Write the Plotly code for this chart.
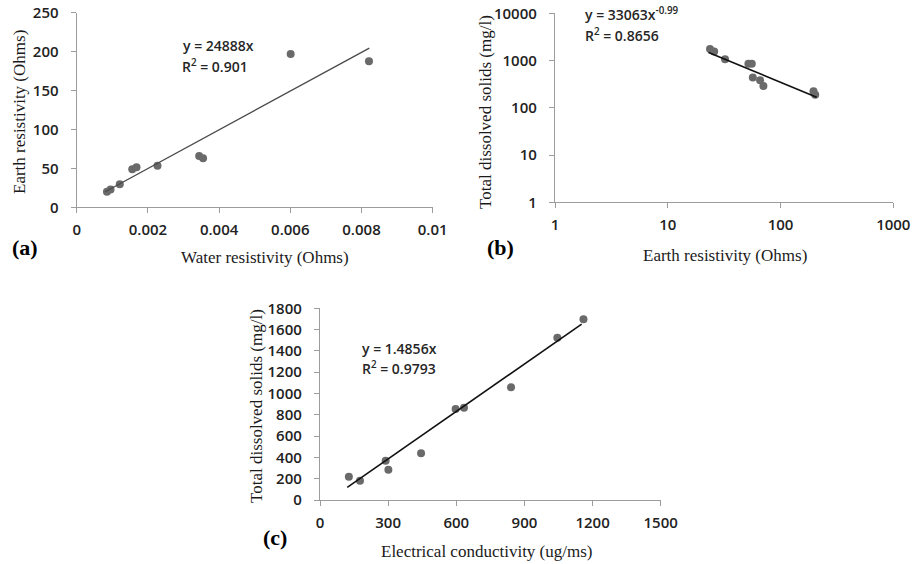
import plotly.graph_objects as go

# ---- Panel (a): Water resistivity vs Earth resistivity ----
a_water = [0.00085, 0.00095, 0.00121, 0.00156, 0.00168, 0.00227, 0.00344, 0.00355, 0.00601, 0.00821]
a_earth = [20, 23, 29.5, 48.8, 51.4, 53.4, 65.9, 62.9, 196.9, 187.5]
a_fit_x = [0.0008, 0.00822]
a_slope = 24888
a_xticks = [0, 0.002, 0.004, 0.006, 0.008, 0.01]
a_xticktext = ["0", "0.002", "0.004", "0.006", "0.008", "0.01"]
a_yticks = [0, 50, 100, 150, 200, 250]

# ---- Panel (b): Earth resistivity vs TDS (log-log) ----
b_earth = [23.7, 25.8, 32.2, 51.9, 55.6, 56.8, 65.9, 70.5, 196, 203]
b_tds = [1750, 1560, 1070, 860, 860, 440, 385, 288, 225, 190]
b_fit_x = [23, 209]
b_coef = 33063
b_exp = -0.99
b_xticks = [1, 10, 100, 1000]
b_yticks = [1, 10, 100, 1000, 10000]

# ---- Panel (c): Electrical conductivity vs TDS ----
c_ec = [127, 176, 289, 301, 445, 597, 634, 841, 1045, 1160]
c_tds = [219, 181, 369, 284, 438, 855, 867, 1058, 1524, 1697]
c_fit_x = [120, 1152]
c_slope = 1.4856
c_intercept = -60
c_xticks = [0, 300, 600, 900, 1200, 1500]
c_yticks = [0, 200, 400, 600, 800, 1000, 1200, 1400, 1600, 1800]

W, H = 917, 564
def px(x):
    return x / W
def py(y):
    return 1 - y / H

TICKFONT = dict(family="Open Sans", size=15, color="#222222", weight=600)
SERIF = "Liberation Serif"
MARKER = dict(color="#6a6a6a", size=8)
AXIS = dict(showgrid=False, zeroline=False, showline=True, linecolor="#9c9c9c",
            linewidth=1.3, ticks="outside", ticklen=5, tickcolor="#9c9c9c",
            tickwidth=1.3, tickfont=TICKFONT, fixedrange=True, automargin=False)

fig = go.Figure()

# (a)
fig.add_trace(go.Scatter(x=a_water, y=a_earth, mode="markers", marker=MARKER,
                         xaxis="x", yaxis="y", showlegend=False))
fig.add_trace(go.Scatter(x=a_fit_x, y=[a_slope * v for v in a_fit_x], mode="lines",
                         line=dict(color="#4a4a4a", width=1.3),
                         xaxis="x", yaxis="y", showlegend=False))
# (b)
fig.add_trace(go.Scatter(x=b_earth, y=b_tds, mode="markers", marker=MARKER,
                         xaxis="x2", yaxis="y2", showlegend=False))
fig.add_trace(go.Scatter(x=b_fit_x, y=[b_coef * v ** b_exp for v in b_fit_x], mode="lines",
                         line=dict(color="#111111", width=1.6),
                         xaxis="x2", yaxis="y2", showlegend=False))
# (c)
fig.add_trace(go.Scatter(x=c_ec, y=c_tds, mode="markers", marker=MARKER,
                         xaxis="x3", yaxis="y3", showlegend=False))
fig.add_trace(go.Scatter(x=c_fit_x, y=[c_slope * v + c_intercept for v in c_fit_x], mode="lines",
                         line=dict(color="#111111", width=1.6),
                         xaxis="x3", yaxis="y3", showlegend=False))

fig.update_layout(
    template="none",
    width=W, height=H, margin=dict(l=0, r=0, t=0, b=0, pad=0), autosize=False,
    paper_bgcolor="white", plot_bgcolor="white",
    xaxis=dict(AXIS, domain=[px(76.7), px(432.7)], range=[0, 0.01],
               tickvals=a_xticks, ticktext=a_xticktext, anchor="y", ticklabelstandoff=4),
    yaxis=dict(AXIS, domain=[py(207.3), py(12.7)], range=[0, 250],
               tickvals=a_yticks, anchor="x", ticklabelstandoff=9),
    xaxis2=dict(AXIS, type="log", domain=[px(555), px(893.3)], range=[0, 3],
                tickvals=b_xticks, ticktext=[str(v) for v in b_xticks], anchor="y2", ticklabelstandoff=4),
    yaxis2=dict(AXIS, type="log", domain=[py(202.3), py(13.3)], range=[0, 4],
                tickvals=b_yticks, ticktext=[str(v) for v in b_yticks], anchor="x2", ticklabelstandoff=9),
    xaxis3=dict(AXIS, domain=[px(320), px(660.7)], range=[0, 1500],
                tickvals=c_xticks, anchor="y3", ticklabelstandoff=4),
    yaxis3=dict(AXIS, domain=[py(500), py(308.3)], range=[0, 1800],
                tickvals=c_yticks, anchor="x3", ticklabelstandoff=9),
)

def ann(text, x, y, size, family, xanchor="center", yanchor="middle", angle=0, bold=False,
        color="#1a1a1a", weight=None):
    f = dict(family=family, size=size, color=color)
    if weight:
        f["weight"] = weight
    fig.add_annotation(text=("<b>%s</b>" % text) if bold else text, x=px(x), y=py(y),
                       xref="paper", yref="paper", showarrow=False,
                       xanchor=xanchor, yanchor=yanchor, textangle=angle, font=f)

# axis titles
ann("Water resistivity (Ohms)", 265, 257, 17, SERIF)
ann("Earth resistivity (Ohms)", 19, 112, 17, SERIF, angle=-90)
ann("Earth resistivity (Ohms)", 725, 255, 17, SERIF)
ann("Total dissolved solids (mg/l)", 485, 112, 17, SERIF, angle=-90)
ann("Electrical conductivity (ug/ms)", 487, 551, 17, SERIF)
ann("Total dissolved solids (mg/l)", 256, 406, 17, SERIF, angle=-90)

# panel labels
ann("(a)", 25, 247, 22, SERIF, bold=True, color="#000000")
ann("(b)", 501, 248, 22, SERIF, bold=True, color="#000000")
ann("(c)", 275, 537, 22, SERIF, bold=True, color="#000000")

# equations
EQ = "Open Sans"
ECOL = "#262626"
ann("y = 24888x", 181, 46, 14, EQ, xanchor="left", color=ECOL, weight=600)
ann("R<sup>2</sup> = 0.901", 180, 66, 14, EQ, xanchor="left", color=ECOL, weight=600)
ann("y = 33063x<sup>-0.99</sup>", 583, 14, 14, EQ, xanchor="left", color=ECOL, weight=600)
ann("R<sup>2</sup> = 0.8656", 583, 35, 14, EQ, xanchor="left", color=ECOL, weight=600)
ann("y = 1.4856x", 360, 348, 14, EQ, xanchor="left", color=ECOL, weight=600)
ann("R<sup>2</sup> = 0.9793", 360, 368, 14, EQ, xanchor="left", color=ECOL, weight=600)

fig.write_html("out.html")
